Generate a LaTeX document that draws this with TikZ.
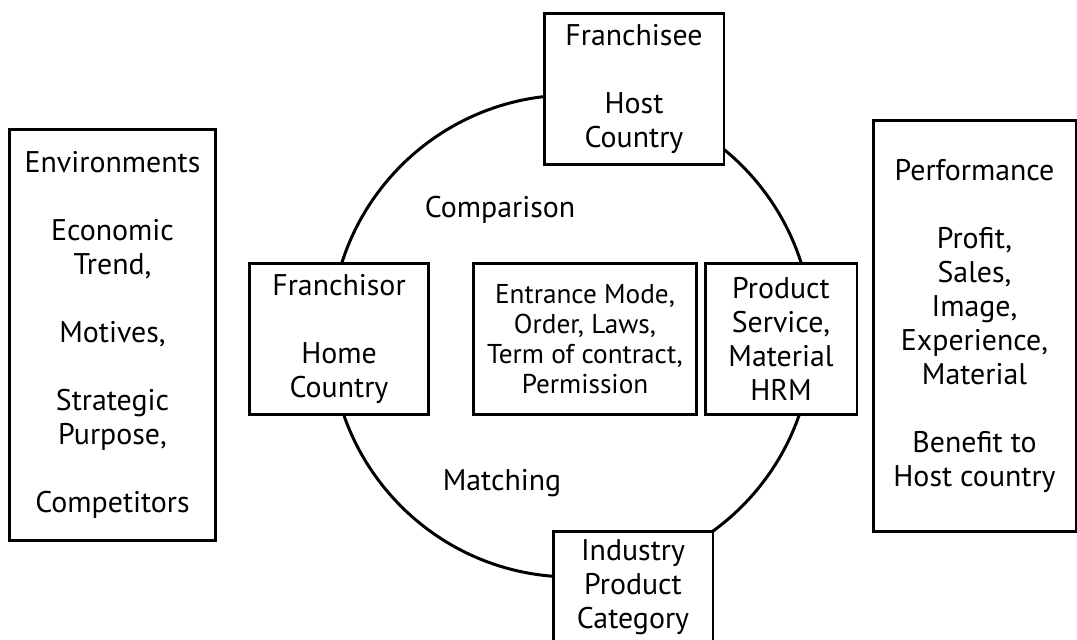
\documentclass[tikz,border=0pt]{standalone}
\usepackage{fontspec}
\setmainfont{PT Sans}
\usepackage{tikz}
\usetikzlibrary{positioning}

\begin{document}
\begin{tikzpicture}[x=0.02cm, y=-0.02cm, line width=1.7pt,
    every node/.style={font=\fontsize{17}{19.35}\selectfont},
    box/.style={draw, rectangle, fill=white, align=center, inner sep=0pt},
    small/.style={font=\fontsize{15.5}{17.1}\selectfont}]
\useasboundingbox (0,0) rectangle (1077,639);
\node[circle, draw, minimum size=9.64cm, inner sep=0pt] (ring) at (571.5,336) {};
\node[box, minimum width=4.14cm, minimum height=8.24cm] (env) at (112.5,335)
  {Environments\\[19.35pt] Economic\\ Trend,\\[19.35pt] Motives,\\[19.35pt] Strategic\\ Purpose,\\[19.35pt] Competitors};
\node[box, minimum width=4.06cm, minimum height=8.24cm] (perf) at (974.5,326)
  {Performance\\[19.35pt] Profit,\\ Sales,\\ Image,\\ Experience,\\ Material\\[19.35pt] Benefit to\\ Host country};
\node[box, minimum width=3.6cm, minimum height=3.04cm] (host) at (634,89)
  {Franchisee\\[19.35pt] Host\\ Country};
\node[box, minimum width=3.6cm, minimum height=3.04cm] (home) at (339,339)
  {Franchisor\\[19.35pt] Home\\ Country};
\node[box, small, minimum width=4.48cm, minimum height=3.04cm] (mode) at (585,339)
  {Entrance Mode,\\ Order, Laws,\\ Term of contract,\\ Permission};
\node[box, minimum width=3.04cm, minimum height=3.04cm] (prod) at (781,339)
  {Product\\ Service,\\ Material\\ HRM};
\node[box, minimum width=3.2cm, minimum height=2.24cm] (ind) at (633,587)
  {Industry\\ Product\\ Category};
\node (comp) at (500,210) {Comparison};
\node (match) at (502,483) {Matching};
\end{tikzpicture}
\end{document}
